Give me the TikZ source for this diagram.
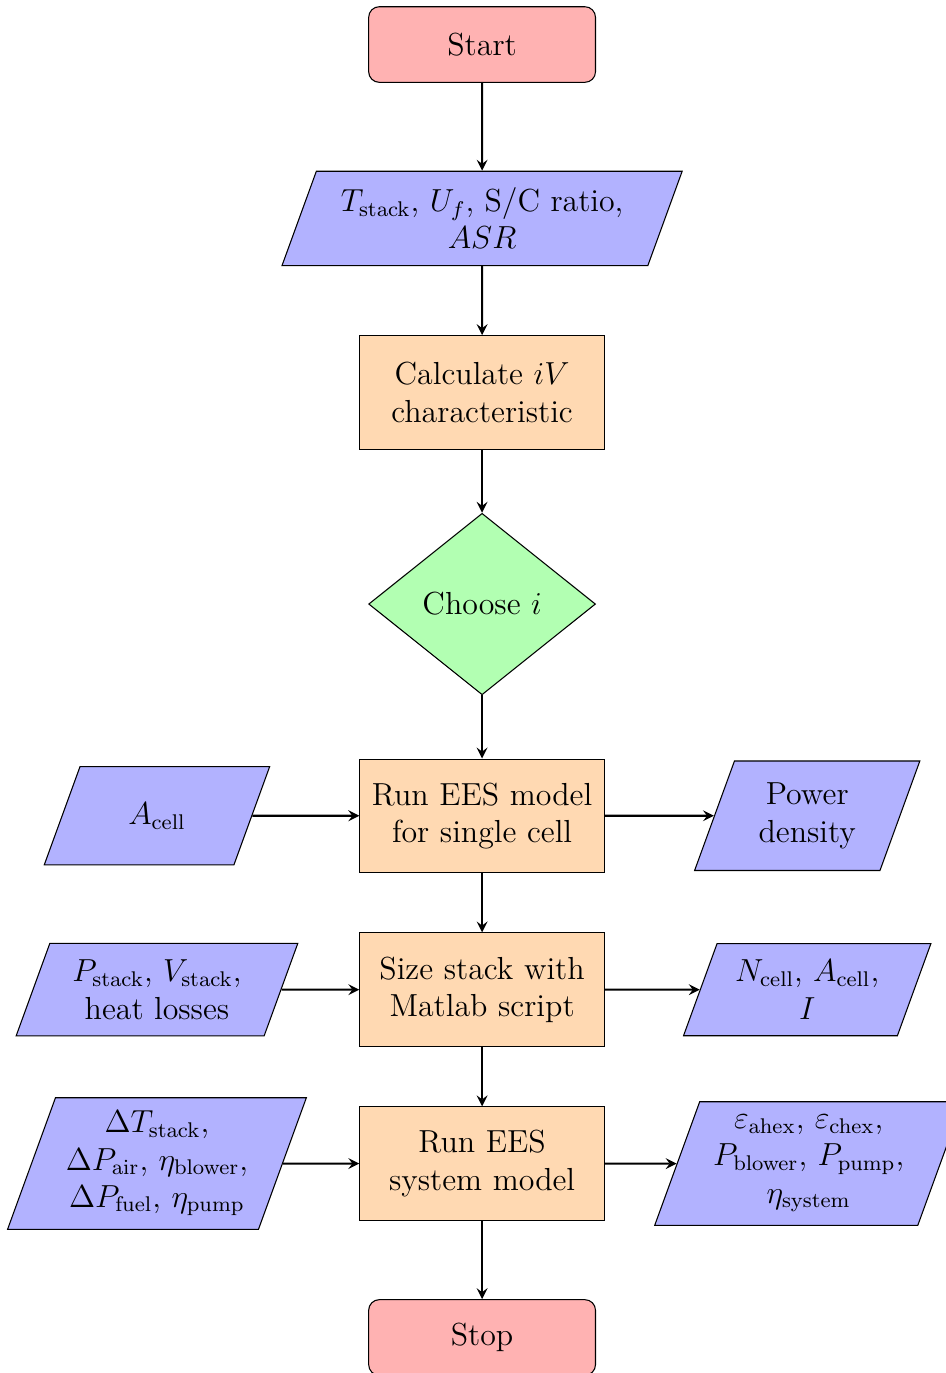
\documentclass[tikz,border=0pt]{standalone}
\usetikzlibrary{shapes.geometric}

\tikzset{
    startstop/.style={rectangle, rounded corners, minimum width=3cm, minimum height=1cm, align=center, draw=black, fill=red!30},
    io/.style={trapezium, trapezium left angle=70, trapezium right angle=110, minimum width=3cm, minimum height=1cm, inner ysep=6.25pt, align=flush center, draw=black, fill=blue!30},
    process/.style={rectangle, minimum width=3cm, minimum height=1.5cm, text width=3cm, align=center, draw=black, fill=orange!30},
    decision/.style={diamond, minimum width=3cm, minimum height=2.4cm, inner sep=0pt, align=center, draw=black, fill=green!30},
    arrow/.style={thick,->,>=stealth}
}

\begin{document}
\begin{tikzpicture}[font=\large]
        \useasboundingbox (-6.376, 0.589) rectangle (6.124, -17.57);

        \node[startstop] (start) at (0, 0) {Start};
        \node[io, text width=4.15cm] (in1) at (0, -2.3) {$T_\mathrm{stack}$, $U_f$, S/C ratio, $ASR$};
        \node[process] (calc) at (0, -4.6) {Calculate $iV$ characteristic};
        \node[decision] (choose) at (0, -7.4) {Choose $i$};
        \node[process] (cell) at (0, -10.2) {Run EES model for single cell};
        \node[process] (size) at (0, -12.5) {Size stack with Matlab script};
        \node[process] (sys) at (0, -14.8) {Run EES system model};
        \node[startstop] (stop) at (0, -17.1) {Stop};

        \node[io, inner ysep=4pt] (in2) at (-4.3, -10.2) {$A_\mathrm{cell}$};
        \node[io, text width=2.6cm] (in3) at (-4.3, -12.5) {$P_\mathrm{stack}$, $V_\mathrm{stack}$, heat losses};
        \node[io, text width=2.45cm, inner ysep=5pt] (in4) at (-4.3, -14.8) {$\Delta T_\mathrm{stack}$, $\Delta P_\mathrm{air}$, $\eta_\mathrm{blower}$, $\Delta P_\mathrm{fuel}$, $\eta_\mathrm{pump}$};

        \node[io, text width=1.5cm] (out1) at (4.3, -10.2) {Power density};
        \node[io, text width=2.15cm] (out2) at (4.3, -12.5) {$N_\mathrm{cell}$, $A_\mathrm{cell}$, $I$};
        \node[io, text width=2.65cm, inner ysep=5pt] (out3) at (4.32, -14.8) {$\varepsilon_\mathrm{ahex}$, $\varepsilon_\mathrm{chex}$, $P_\mathrm{blower}$, $P_\mathrm{pump}$, $\eta_\mathrm{system}$};

        \draw[arrow] (start) -- (in1);
        \draw[arrow] (in1) -- (calc);
        \draw[arrow] (calc) -- (choose);
        \draw[arrow] (choose) -- (cell);
        \draw[arrow] (cell) -- (size);
        \draw[arrow] (size) -- (sys);
        \draw[arrow] (sys) -- (stop);

        \draw[arrow] (in2) -- (cell);
        \draw[arrow] (in3) -- (size);
        \draw[arrow] (in4) -- (sys);
        \draw[arrow] (cell) -- (out1);
        \draw[arrow] (size) -- (out2);
        \draw[arrow] (sys) -- (out3);

    \end{tikzpicture}
\end{document}
